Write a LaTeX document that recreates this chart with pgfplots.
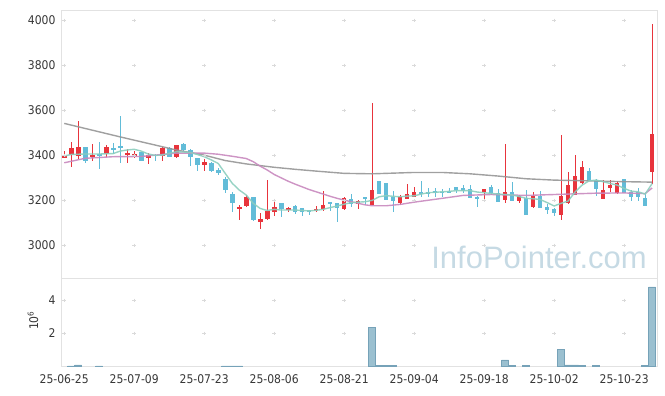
\documentclass[border=0pt]{standalone}
\usepackage{fontspec}
\setmainfont{DejaVu Sans Condensed}
\newfontfamily\wmfont{Liberation Sans}
\usepackage{pgfplots}
\usepackage{pgfplotstable}
\pgfplotsset{compat=1.18}
\definecolor{cred}{RGB}{232,52,60}
\definecolor{cblue}{RGB}{98,188,216}
\definecolor{mateal}{RGB}{140,206,190}
\definecolor{mapink}{RGB}{200,136,190}
\definecolor{magrey}{RGB}{150,150,150}
\definecolor{volfill}{RGB}{155,192,208}
\definecolor{voledge}{RGB}{118,162,184}
\definecolor{gridc}{RGB}{218,218,218}
\definecolor{framec}{RGB}{226,226,226}
\definecolor{tickc}{RGB}{55,55,55}
\definecolor{wmc}{RGB}{198,218,228}

\pgfplotstableread{
i O H L C
0 3390 3419 3387 3398
1 3401 3458 3347 3434
2 3398 3552 3384 3437
4 3393 3449 3376 3401
6 3404 3446 3393 3437
9 3401 3427 3364 3410
10 3399 3419 3387 3406
12 3387 3410 3362 3400
14 3399 3437 3375 3431
16 3394 3446 3387 3446
20 3358 3385 3332 3370
25 3161 3179 3113 3170
26 3176 3224 3169 3213
28 3105 3142 3074 3117
29 3115 3290 3112 3152
30 3150 3201 3130 3172
32 3155 3172 3150 3167
36 3153 3173 3150 3162
37 3162 3240 3151 3179
40 3163 3216 3157 3209
42 3185 3201 3160 3197
44 3178 3631 3178 3246
48 3187 3224 3180 3216
49 3207 3271 3205 3228
50 3216 3258 3214 3237
60 3235 3252 3203 3250
63 3201 3450 3189 3237
65 3198 3223 3189 3219
67 3169 3238 3168 3219
71 3135 3490 3113 3219
72 3187 3327 3183 3268
73 3226 3401 3223 3308
74 3275 3375 3272 3348
77 3207 3290 3207 3244
78 3256 3290 3238 3268
79 3234 3286 3228 3278
84 3327 3985 3272 3495
}\upc

\pgfplotstableread{
i O H L C
3 3437 3437 3364 3376
5 3405 3458 3339 3400
7 3431 3456 3407 3428
8 3441 3573 3364 3434
11 3413 3416 3376 3376
13 3403 3407 3375 3397
15 3434 3438 3393 3394
17 3450 3456 3420 3426
18 3426 3430 3352 3391
19 3388 3390 3330 3357
21 3367 3372 3325 3332
22 3335 3345 3312 3320
23 3295 3305 3234 3246
24 3228 3238 3150 3190
27 3213 3215 3110 3112
31 3187 3190 3124 3163
33 3175 3178 3138 3150
34 3164 3166 3132 3150
35 3154 3156 3135 3150
38 3191 3192 3152 3184
39 3188 3190 3105 3164
41 3204 3227 3172 3184
43 3214 3216 3179 3206
45 3286 3286 3227 3227
46 3276 3278 3200 3202
47 3216 3241 3147 3197
51 3237 3286 3216 3230
52 3236 3253 3216 3233
53 3241 3256 3216 3234
54 3238 3249 3216 3232
55 3241 3256 3231 3236
56 3259 3259 3231 3246
57 3254 3268 3231 3243
58 3249 3268 3212 3212
59 3216 3218 3169 3207
61 3261 3268 3224 3231
62 3231 3250 3194 3194
64 3237 3280 3195 3198
66 3211 3246 3137 3137
68 3219 3243 3165 3167
69 3170 3186 3139 3158
70 3161 3165 3130 3145
75 3330 3346 3286 3286
76 3290 3296 3219 3249
80 3293 3293 3231 3231
81 3235 3246 3198 3216
82 3237 3253 3198 3216
83 3209 3231 3175 3175
}\downc

\pgfplotstableread{
i v
0 3397
1 3404
2 3405
3 3406
4 3406
5 3406
6 3407
7 3408
8 3419
9 3424
10 3427
11 3419
12 3406
13 3400
14 3401
15 3409
16 3416
17 3415
18 3413
19 3404
20 3394
21 3380
22 3364
23 3320
24 3276
25 3246
26 3224
27 3187
28 3164
29 3155
30 3160
31 3157
32 3157
33 3157
34 3155
35 3153
36 3156
37 3160
38 3168
39 3175
40 3183
41 3190
42 3192
43 3194
44 3200
45 3216
46 3221
47 3218
48 3216
49 3219
50 3220
51 3228
52 3234
53 3236
54 3238
55 3240
56 3243
57 3243
58 3243
59 3237
60 3234
61 3231
62 3228
63 3226
64 3224
65 3217
66 3209
67 3207
68 3204
69 3190
70 3175
71 3187
72 3197
73 3238
74 3268
75 3287
76 3290
77 3283
78 3275
79 3268
80 3253
81 3241
82 3238
83 3228
84 3275
}\mafive

\pgfplotstableread{
i v
0 3367
3 3387
7 3394
11 3395
16 3410
20 3410
22 3405
24 3396
26 3386
27 3372
28 3352
29 3335
30 3315
31 3300
32 3285
33 3272
34 3260
35 3248
36 3238
37 3228
38 3218
39 3209
40 3201
41 3194
42 3187
43 3180
44 3176
46 3176
48 3182
50 3192
54 3209
57 3222
61 3226
66 3222
72 3228
76 3232
80 3233
83 3230
84 3255
}\matwenty

\pgfplotstableread{
i v
0 3542
4 3512
8 3482
12 3453
16 3424
20 3401
23 3377
26 3362
30 3347
33 3338
36 3330
40 3320
44 3318
48 3322
50 3324
54 3324
58 3318
62 3308
66 3296
70 3290
76 3286
80 3283
84 3281
}\masixty

\pgfplotstableread{
i v
1 0.04
2 0.10
5 0.04
23 0.04
24 0.04
25 0.04
44 2.37
45 0.09
46 0.05
47 0.05
63 0.40
64 0.05
66 0.05
71 1.05
72 0.10
73 0.10
74 0.05
76 0.05
83 0.05
84 4.82
}\vol

\begin{document}
\begin{tikzpicture}
\path[use as bounding box] (0pt,0pt) rectangle (665pt,396pt);
\begin{axis}[
  at={(61pt,118pt)}, anchor=south west,
  scale only axis, width=596pt, height=268pt,
  xmin=-0.46, xmax=84.69, ymin=2855, ymax=4046,
  xtick=\empty,
  ytick={3000,3200,3400,3600,3800,4000},
  major tick length=0pt,
  axis line style={draw=framec, line width=0.8pt},
  yticklabel style={font=\fontsize{12}{12}\selectfont, text=tickc, xshift=-2pt},
  /pgf/number format/assume math mode=true,
  /pgf/number format/1000 sep={},
  clip=true,
]
\pgfplotsinvokeforeach{3000,3200,3400,3600,3800,4000}{
\addplot[forget plot, only marks, mark=+, mark size=1.8pt, draw=gridc, line width=0.8pt] coordinates {(0,#1)(10,#1)(20,#1)(30,#1)(40,#1)(50,#1)(60,#1)(70,#1)(80,#1)};
}
% wicks
\addplot[draw=none, mark=none, forget plot, error bars/.cd, y dir=both, y explicit, error mark=none, error bar style={solid, draw=cred, line width=1pt}]
  table[x=i, y expr={(\thisrow{H}+\thisrow{L})/2}, y error expr={(\thisrow{H}-\thisrow{L})/2}] {\upc};
\addplot[draw=none, mark=none, forget plot, error bars/.cd, y dir=both, y explicit, error mark=none, error bar style={solid, draw=cblue, line width=1pt}]
  table[x=i, y expr={(\thisrow{H}+\thisrow{L})/2}, y error expr={(\thisrow{H}-\thisrow{L})/2}] {\downc};
% bodies
\addplot[draw=none, mark=none, forget plot, error bars/.cd, y dir=both, y explicit, error mark=none, error bar style={solid, draw=cred, line width=4.6pt}]
  table[x=i, y expr={(\thisrow{O}+\thisrow{C})/2}, y error expr={max(abs(\thisrow{C}-\thisrow{O})/2,3)}] {\upc};
\addplot[draw=none, mark=none, forget plot, error bars/.cd, y dir=both, y explicit, error mark=none, error bar style={solid, draw=cblue, line width=4.6pt}]
  table[x=i, y expr={(\thisrow{O}+\thisrow{C})/2}, y error expr={max(abs(\thisrow{C}-\thisrow{O})/2,3)}] {\downc};
% moving averages
\addplot[magrey, line width=1.4pt, opacity=0.9, mark=none] table[x=i,y=v] {\masixty};
\addplot[mapink, line width=1.4pt, opacity=0.9, mark=none] table[x=i,y=v] {\matwenty};
\addplot[mateal, line width=1.4pt, opacity=0.9, mark=none] table[x=i,y=v] {\mafive};
\end{axis}
\begin{axis}[
  at={(61pt,29.5pt)}, anchor=south west,
  scale only axis, width=596pt, height=88.5pt,
  xmin=-0.46, xmax=84.69, ymin=0, ymax=5.36,
  xtick={0,10,20,30,40,50,60,70,80},
  xticklabels={25-06-25,25-07-09,25-07-23,25-08-06,25-08-21,25-09-04,25-09-18,25-10-02,25-10-23},
  ytick={2,4},
  major tick length=0pt,
  axis line style={draw=framec, line width=0.8pt},
  yticklabel style={font=\fontsize{12}{12}\selectfont, text=tickc, xshift=-2pt},
  xticklabel style={font=\fontsize{12}{12}\selectfont, text=tickc, yshift=-4.5pt},
  /pgf/number format/assume math mode=true,
  ylabel={10\textsuperscript{6}},
  ylabel style={font=\fontsize{12}{12}\selectfont, text=tickc, at={(axis description cs:-0.047,0.52)}, anchor=center},
]
\pgfplotsinvokeforeach{2,4}{
\addplot[forget plot, only marks, mark=+, mark size=1.8pt, draw=gridc, line width=0.8pt] coordinates {(0,#1)(10,#1)(20,#1)(30,#1)(40,#1)(50,#1)(60,#1)(70,#1)(80,#1)};
}
\addplot[ybar, bar width=1, fill=volfill, draw=voledge, line width=0.6pt] table[x=i,y=v] {\vol};
\end{axis}
\node[font=\wmfont\fontsize{31}{31}\selectfont, text=wmc] at (539pt,139pt) {InfoPointer.com};
\end{tikzpicture}
\end{document}
